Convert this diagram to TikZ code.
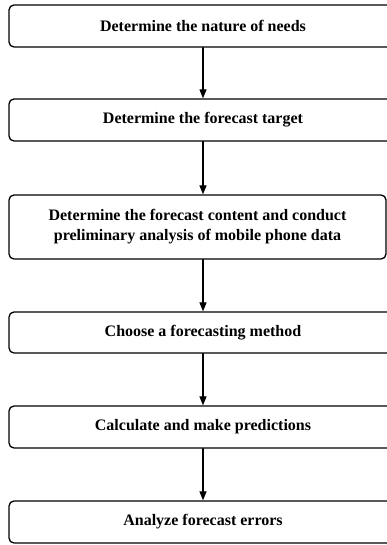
\documentclass[tikz,border=0pt]{standalone}
\usepackage{fontspec}
\setmainfont{Liberation Serif}
\usetikzlibrary{arrows.meta}

\begin{document}
\begin{tikzpicture}[x=1pt,y=1pt,line cap=round,line join=round,
    stepbox/.style={draw,line width=1.3pt,rounded corners=5pt,align=center,
        minimum width=388pt,minimum height=42pt,inner sep=0pt,
        font=\fontsize{16}{20}\selectfont\bfseries},
    arr/.style={line width=1.2pt,-{Triangle[length=9pt,width=7pt]}}]
    \useasboundingbox (0,0) rectangle (387,545);
    \clip (0,0) rectangle (387,545);
    \node[stepbox] (needs) at (203,519) {Determine the nature of needs};
    \node[stepbox] (target) at (203,425) {Determine the forecast target};
    \node[stepbox,minimum width=377pt,minimum height=64pt] (content) at (197.5,318)
        {Determine the forecast content and conduct\\preliminary analysis of mobile phone data};
    \node[stepbox,minimum height=41pt] (method) at (203,212.5) {Choose a forecasting method};
    \node[stepbox] (predict) at (203,118) {Calculate and make predictions};
    \node[stepbox] (errors) at (203,23) {Analyze forecast errors};
    \draw[arr] (needs) -- (target);
    \draw[arr] (target.south) -- (target.south |- content.north);
    \draw[arr] (content.south -| method.north) -- (method.north);
    \draw[arr] (method) -- (predict);
    \draw[arr] (predict) -- (errors);
\end{tikzpicture}
\end{document}
